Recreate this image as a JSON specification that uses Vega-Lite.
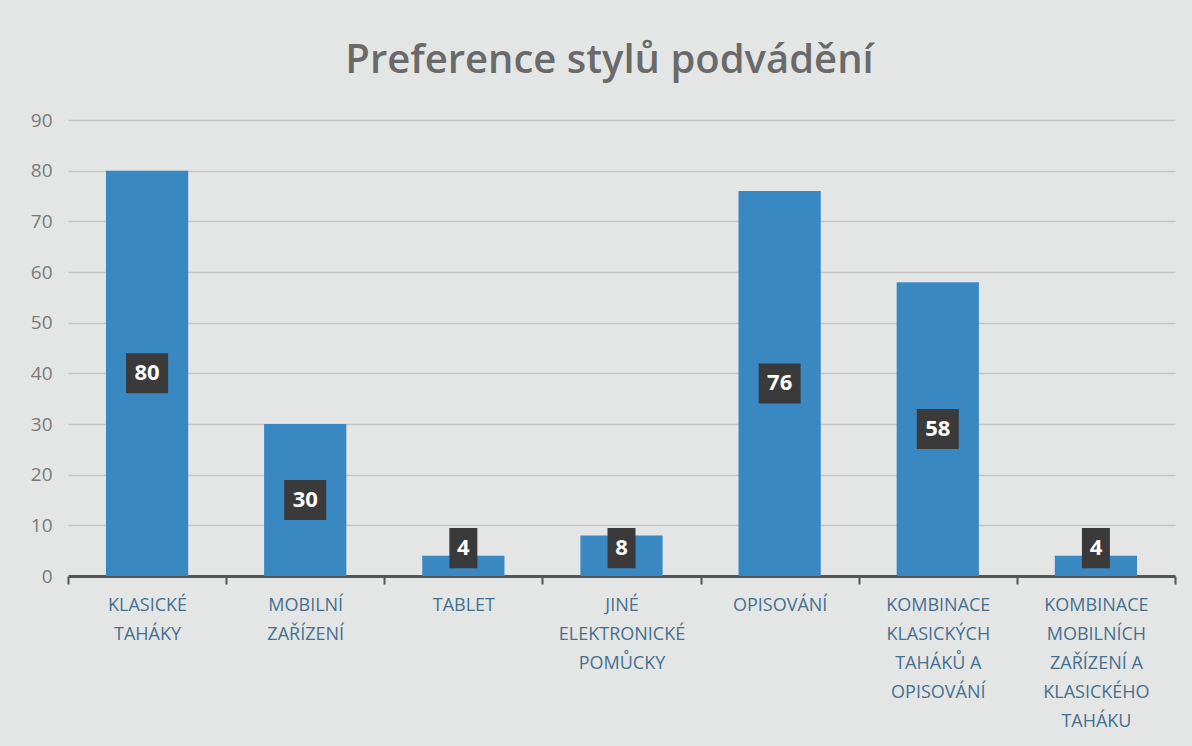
{
  "$schema": "https://vega.github.io/schema/vega-lite/v6.json",
  "width": 1107,
  "height": 456,
  "autosize": {"type": "none"},
  "padding": {"left": 68, "top": 120, "right": 17, "bottom": 170},
  "background": "#e4e6e6",
  "title": {
    "text": "Preference stylů podvádění",
    "font": "Open Sans",
    "fontSize": 40,
    "fontWeight": 600,
    "color": "#6a6a6a",
    "offset": 30,
    "dx": -12,
    "anchor": "middle"
  },
  "config": {
    "view": {"stroke": null},
    "font": "Open Sans"
  },
  "data": {
    "values": [
      {"kategorie": "KLASICKÉ|TAHÁKY", "pocet": 80},
      {"kategorie": "MOBILNÍ|ZAŘÍZENÍ", "pocet": 30},
      {"kategorie": "TABLET", "pocet": 4},
      {"kategorie": "JINÉ|ELEKTRONICKÉ|POMŮCKY", "pocet": 8},
      {"kategorie": "OPISOVÁNÍ", "pocet": 76},
      {"kategorie": "KOMBINACE|KLASICKÝCH|TAHÁKŮ A|OPISOVÁNÍ", "pocet": 58},
      {"kategorie": "KOMBINACE|MOBILNÍCH|ZAŘÍZENÍ A|KLASICKÉHO|TAHÁKU", "pocet": 4}
    ]
  },
  "transform": [
    {"calculate": "max(datum.pocet / 2, 5.5)", "as": "lpos"},
    {"calculate": "datum.lpos - 3.95", "as": "lbot"},
    {"calculate": "datum.lpos + 3.95", "as": "ltop"},
    {"calculate": "datum.pocet >= 10 ? 42 : 28", "as": "lw"}
  ],
  "encoding": {
    "x": {
      "field": "kategorie",
      "type": "nominal",
      "sort": null,
      "scale": {"paddingInner": 0, "paddingOuter": 0},
      "axis": {
        "title": null,
        "labelAngle": 0,
        "labelExpr": "isValid(datum.value) ? split(datum.value, '|') : ''",
        "labelFont": "Open Sans",
        "labelFontSize": 18,
        "labelFontWeight": 500,
        "labelColor": "#46708f",
        "labelLineHeight": 29,
        "labelPadding": 12,
        "labelBaseline": "top",
        "domainColor": "#555555",
        "domainWidth": 3,
        "tickColor": "#555555",
        "tickWidth": 2,
        "tickSize": 8,
        "tickBand": "extent",
        "grid": false
      }
    }
  },
  "layer": [
    {
      "mark": {"type": "bar", "color": "#3a88c2", "width": {"band": 0.52}},
      "encoding": {
        "y": {
          "field": "pocet",
          "type": "quantitative",
          "scale": {"domain": [0, 90]},
          "axis": {
            "title": null,
            "values": [0, 10, 20, 30, 40, 50, 60, 70, 80, 90],
            "domain": false,
            "ticks": false,
            "labelPadding": 16,
            "labelFont": "Open Sans",
            "labelFontSize": 19,
            "labelColor": "#7a7a7a",
            "gridColor": "#c4c6c6",
            "gridWidth": 1.5
          }
        }
      }
    },
    {
      "mark": {"type": "bar", "color": "#3a3a3a"},
      "encoding": {
        "y": {"field": "lbot", "type": "quantitative"},
        "y2": {"field": "ltop"},
        "size": {"field": "lw", "type": "quantitative", "scale": null, "legend": null}
      }
    },
    {
      "mark": {
        "type": "text",
        "color": "white",
        "font": "Open Sans",
        "fontSize": 22,
        "fontWeight": "bold",
        "baseline": "middle"
      },
      "encoding": {
        "y": {"field": "lpos", "type": "quantitative"},
        "text": {"field": "pocet", "type": "quantitative"}
      }
    }
  ]
}
